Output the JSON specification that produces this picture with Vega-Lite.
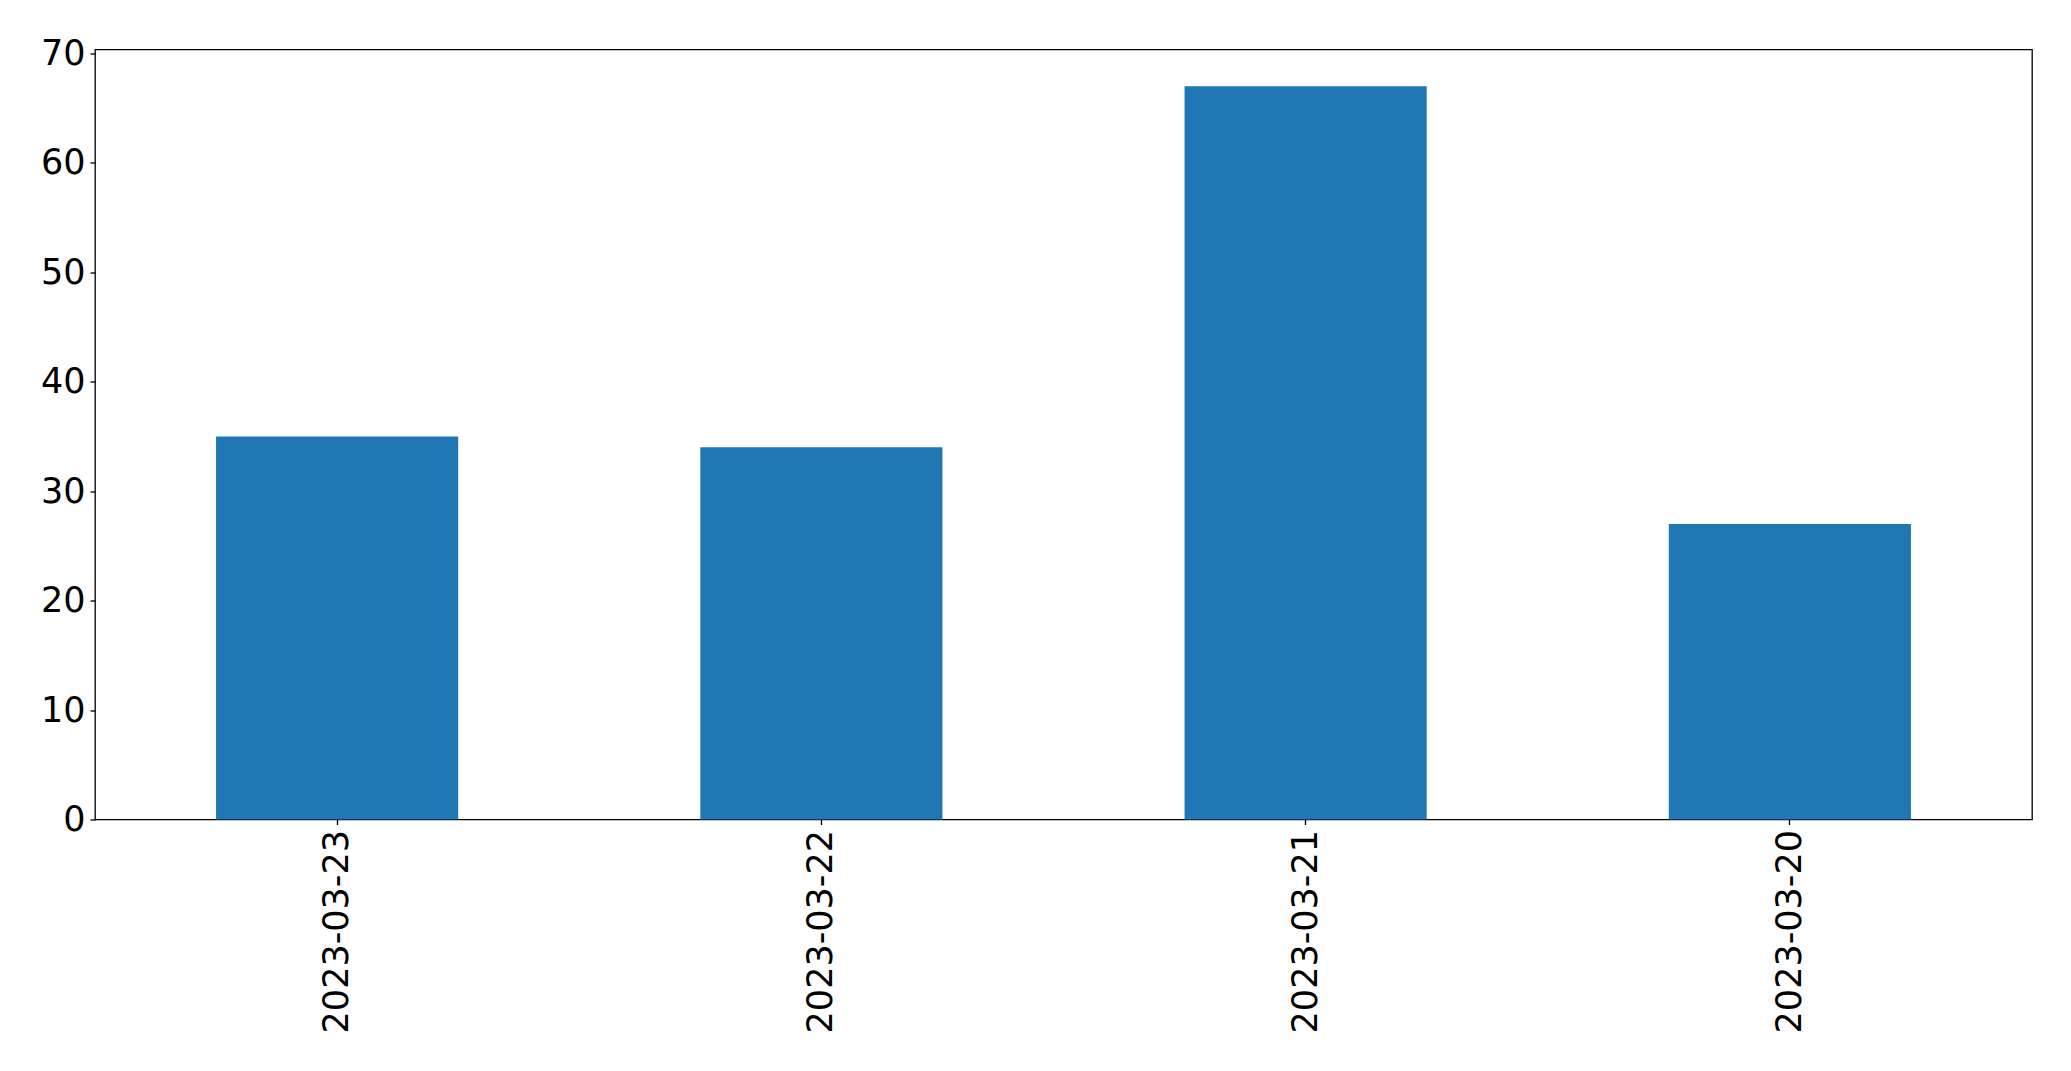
{
  "$schema": "https://vega.github.io/schema/vega-lite/v6.json",
  "autosize": {"type": "none"},
  "padding": {"left": 95, "top": 49.5, "right": 40, "bottom": 252},
  "width": 1937,
  "height": 770,
  "background": "white",
  "config": {
    "view": {"stroke": "black", "strokeWidth": 1.3},
    "axis": {
      "labelFont": "DejaVu Sans",
      "labelFontSize": 35,
      "labelColor": "black",
      "labelLimit": 0,
      "tickColor": "black",
      "tickSize": 5,
      "tickWidth": 1.3,
      "labelPadding": 5,
      "domain": false,
      "grid": false,
      "title": null
    }
  },
  "data": {
    "values": [
      {"date": "2023-03-23", "count": 35},
      {"date": "2023-03-22", "count": 34},
      {"date": "2023-03-21", "count": 67},
      {"date": "2023-03-20", "count": 27}
    ]
  },
  "mark": {"type": "bar", "color": "#1f77b4"},
  "encoding": {
    "x": {
      "field": "date",
      "type": "nominal",
      "sort": null,
      "scale": {"paddingInner": 0.5, "paddingOuter": 0.25},
      "axis": {"labelAngle": -90, "labelAlign": "right", "labelBaseline": "middle"}
    },
    "y": {
      "field": "count",
      "type": "quantitative",
      "scale": {"domain": [0, 70.35], "nice": false, "zero": true},
      "axis": {"values": [0, 10, 20, 30, 40, 50, 60, 70]}
    }
  }
}
